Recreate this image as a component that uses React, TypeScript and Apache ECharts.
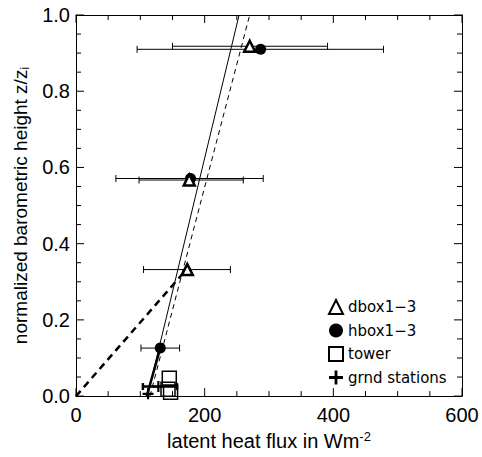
import React, { useEffect, useRef } from "react";
import * as echarts from "echarts";

// dbox1-3 (triangles)
const dboxX = [270, 176, 173];
const dboxZ = [0.918, 0.567, 0.332];
const dboxLow = [150, 98, 105];
const dboxHigh = [391, 260, 240];
// hbox1-3 (filled circles)
const hboxX = [287, 178, 131];
const hboxZ = [0.91, 0.571, 0.126];
const hboxLow = [95, 62, 101];
const hboxHigh = [478, 291, 161];
// tower (squares)
const towerX = [145, 143, 147];
const towerZ = [0.047, 0.018, 0.01];
// ground stations (plus)
const grndX = [128, 112];
const grndZ = [0.025, 0.006];
const grndLow = [104];
const grndHigh = [157];
const grndErrZ = [0.025];
// fit lines
const fitSolidX = [111, 253.5];
const fitSolidZ = [0, 1];
const fitDashX = [115, 270];
const fitDashZ = [0, 1];
const lowDashX = [0, 172];
const lowDashZ = [0, 0.333];
const lowSolidX = [110, 131];
const lowSolidZ = [0, 0.126];

// axis ticks
const xTicks = [0, 200, 400, 600];
const xMinorTicks = [50, 100, 150, 250, 300, 350, 450, 500, 550];
const yTicks = [0, 0.2, 0.4, 0.6, 0.8, 1.0];
const yMinorTicks = [0.05, 0.1, 0.15, 0.25, 0.3, 0.35, 0.45, 0.5, 0.55, 0.65, 0.7, 0.75, 0.85, 0.9, 0.95];

const FONT = "'Liberation Sans', Arial, Helvetica, sans-serif";
const PLUS = "path://M4,0H6V4H10V6H6V10H4V6H0V4H4Z";
const MAJOR_LEN = 8;
const MINOR_LEN = 5;
const TICK_COLOR = "#000";

const pairs = (xs: number[], ys: number[]) => xs.map((x, i) => [x, ys[i]]);
const errs = (lo: number[], hi: number[], z: number[]) => lo.map((l, i) => [l, hi[i], z[i]]);

const X0 = xTicks[0];
const X1 = xTicks[xTicks.length - 1];
const Y0 = yTicks[0];
const Y1 = yTicks[yTicks.length - 1];

// tick items: [value, side(0 bottom,1 top,2 left,3 right), length]
const tickData: number[][] = [];
xTicks.forEach((v) => { tickData.push([v, 0, MAJOR_LEN]); tickData.push([v, 1, MAJOR_LEN]); });
xMinorTicks.forEach((v) => { tickData.push([v, 0, MINOR_LEN]); tickData.push([v, 1, MINOR_LEN]); });
yTicks.forEach((v) => { tickData.push([v, 2, MAJOR_LEN]); tickData.push([v, 3, MAJOR_LEN]); });
yMinorTicks.forEach((v) => { tickData.push([v, 2, MINOR_LEN]); tickData.push([v, 3, MINOR_LEN]); });

const tickSeries = {
  type: "custom",
  silent: true,
  z: 0,
  data: tickData,
  encode: { x: 0, y: 0 },
  renderItem: (_p: any, api: any) => {
    const v = api.value(0);
    const side = api.value(1);
    const len = api.value(2);
    let p: number[];
    let q: number[];
    if (side === 0) { p = api.coord([v, Y0]); q = [p[0], p[1] - len]; }
    else if (side === 1) { p = api.coord([v, Y1]); q = [p[0], p[1] + len]; }
    else if (side === 2) { p = api.coord([X0, v]); q = [p[0] + len, p[1]]; }
    else { p = api.coord([X1, v]); q = [p[0] - len, p[1]]; }
    return {
      type: "line",
      shape: { x1: p[0], y1: p[1], x2: q[0], y2: q[1] },
      style: { stroke: TICK_COLOR, lineWidth: 1 },
    };
  },
};

const errorSeries = (data: number[][], width: number) => ({
  type: "custom",
  silent: true,
  z: 1,
  data,
  encode: { x: [0, 1], y: 2 },
  renderItem: (_p: any, api: any) => {
    const lo = api.coord([api.value(0), api.value(2)]);
    const hi = api.coord([api.value(1), api.value(2)]);
    const h = 3.5;
    const st = { stroke: "#000", lineWidth: width };
    return {
      type: "group",
      children: [
        { type: "line", shape: { x1: lo[0], y1: lo[1], x2: hi[0], y2: hi[1] }, style: st },
        { type: "line", shape: { x1: lo[0], y1: lo[1] - h, x2: lo[0], y2: lo[1] + h }, style: st },
        { type: "line", shape: { x1: hi[0], y1: hi[1] - h, x2: hi[0], y2: hi[1] + h }, style: st },
      ],
    };
  },
});

const lineSeries = (data: number[][], width: number, type: any) => ({
  type: "line",
  data,
  symbol: "none",
  silent: true,
  z: 2,
  lineStyle: { color: "#000", width, type },
});

const mkAxis = (position: string, min: number, max: number, interval: number, extra: any) => ({
  type: "value",
  position,
  min,
  max,
  interval,
  axisLine: { show: true, onZero: false, lineStyle: { color: "#000", width: 1 } },
  axisTick: { show: false },
  minorTick: { show: false },
  splitLine: { show: false },
  minorSplitLine: { show: false },
  ...extra,
});

export default function App() {
  const ref = useRef<HTMLDivElement>(null);
  useEffect(() => {
    if (!ref.current) return;
    const chart = echarts.init(ref.current, undefined, { renderer: "svg" });
    chart.setOption({
      animation: false,
      backgroundColor: "#fff",
      grid: { left: 76, right: 20, top: 15, bottom: 53 },
      xAxis: [
        mkAxis("bottom", X0, X1, 200, {
          axisLabel: { color: "#000", fontSize: 20, fontFamily: FONT, margin: 9 },
          name: "latent heat flux in Wm{sup|-2}",
          nameLocation: "middle",
          nameGap: 22,
          nameTextStyle: {
            color: "#000",
            fontSize: 20,
            fontFamily: FONT,
            lineHeight: 22,
            rich: { sup: { fontSize: 13, fontFamily: FONT, color: "#000", lineHeight: 13, verticalAlign: "top" } },
          },
        }),
        mkAxis("top", X0, X1, 200, { axisLabel: { show: false } }),
      ],
      yAxis: [
        mkAxis("left", Y0, Y1, 0.2, {
          axisLabel: {
            color: "#000",
            fontSize: 20,
            fontFamily: FONT,
            margin: 6,
            formatter: (v: number) => v.toFixed(1),
          },
          name: "normalized barometric height z/z{sub|i}",
          nameLocation: "middle",
          nameGap: 45,
          nameTextStyle: {
            color: "#000",
            fontSize: 19,
            fontFamily: FONT,
            lineHeight: 22,
            rich: { sub: { fontSize: 12, fontFamily: FONT, color: "#000", lineHeight: 12, verticalAlign: "bottom" } },
          },
        }),
        mkAxis("right", Y0, Y1, 0.2, { axisLabel: { show: false } }),
      ],
      legend: {
        orient: "vertical",
        left: 323,
        top: 294,
        itemWidth: 14,
        itemHeight: 14,
        itemGap: 8,
        textStyle: { color: "#000", fontSize: 15, fontFamily: "'DejaVu Sans', sans-serif" },
        data: ["dbox1−3", "hbox1−3", "tower", "grnd stations"],
      },
      series: [
        tickSeries,
        lineSeries(pairs(fitSolidX, fitSolidZ), 1, "solid"),
        lineSeries(pairs(fitDashX, fitDashZ), 1, [5, 4]),
        lineSeries(pairs(lowDashX, lowDashZ), 2.5, [7, 5]),
        lineSeries(pairs(lowSolidX, lowSolidZ), 2.5, "solid"),
        errorSeries(errs(dboxLow, dboxHigh, dboxZ), 1),
        errorSeries(errs(hboxLow, hboxHigh, hboxZ), 1),
        errorSeries(errs(grndLow, grndHigh, grndErrZ), 2.5),
        {
          name: "tower",
          type: "scatter",
          z: 3,
          symbol: "rect",
          symbolSize: 14,
          data: pairs(towerX, towerZ),
          itemStyle: { color: "rgba(255,255,255,0)", borderColor: "#000", borderWidth: 1.5, opacity: 1 },
        },
        {
          name: "grnd stations",
          type: "scatter",
          z: 3,
          symbol: PLUS,
          symbolSize: 11,
          data: pairs(grndX, grndZ),
          itemStyle: { color: "#000", opacity: 1 },
        },
        {
          name: "hbox1−3",
          type: "scatter",
          z: 4,
          symbol: "circle",
          symbolSize: 11,
          data: pairs(hboxX, hboxZ),
          itemStyle: { color: "#000", opacity: 1 },
        },
        {
          name: "dbox1−3",
          type: "scatter",
          z: 5,
          symbol: "triangle",
          symbolSize: 11,
          data: pairs(dboxX, dboxZ),
          itemStyle: { color: "#fff", borderColor: "#000", borderWidth: 2.5, opacity: 1 },
        },
      ],
    });
    return () => chart.dispose();
  }, []);
  return <div ref={ref} style={{ position: "absolute", left: 0, top: 0, width: 482, height: 457 }} />;
}
